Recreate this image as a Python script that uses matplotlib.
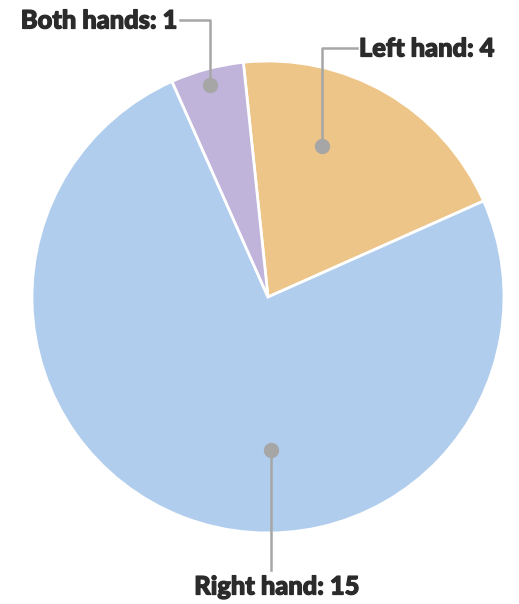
import numpy as np
import matplotlib

matplotlib.use("Agg")
import matplotlib.pyplot as plt
import matplotlib.patheffects as pe

# data
labels = ["Left hand", "Right hand", "Both hands"]
counts = [4, 15, 1]
colors = ["#EDC588", "#B0CDED", "#C0B4DA"]

# figure in pixel coordinates (y measured from bottom)
W, H = 519, 604
fig = plt.figure(figsize=(W / 100, H / 100), dpi=100)
ax = fig.add_axes([0, 0, 1, 1])

cx, cy, R = 268, H - 297, 236
ax.pie(
    counts,
    colors=colors,
    startangle=96,
    counterclock=False,
    center=(cx, cy),
    radius=R,
    wedgeprops=dict(edgecolor="white", linewidth=2),
)
ax.set_xlim(0, W)
ax.set_ylim(0, H)
ax.set_aspect("equal")
ax.axis("off")

# label anchors: (angle deg, radius fraction)
anchors = {
    "Left hand": (70.4, 0.68),
    "Right hand": (-89.0, 0.65),
    "Both hands": (105.4, 0.93),
}
line_col = "#A6A6A6"
txt_col = "#2B2B2B"
font = dict(
    family=["Lato", "DejaVu Sans"],
    fontweight="black",
    fontsize=18.3,
    color=txt_col,
    path_effects=[pe.withStroke(linewidth=0.9, foreground=txt_col)],
)

for lab, n in zip(labels, counts):
    ang, rf = anchors[lab]
    px = cx + rf * R * np.cos(np.radians(ang))
    py = cy + rf * R * np.sin(np.radians(ang))
    if lab == "Left hand":
        ey = H - 48
        ax.plot([px, px, 357], [py, ey, ey], color=line_col, lw=1.8, zorder=3)
        ax.text(359, ey - 1, f"{lab}: {n}", ha="left", va="center", **font)
    elif lab == "Both hands":
        ey = H - 20
        ax.plot([px, px, 180], [py, ey, ey], color=line_col, lw=1.8, zorder=3)
        ax.text(177, ey - 1, f"{lab}: {n}", ha="right", va="center", **font)
    else:
        ey = H - 570
        ax.plot([px, px], [py, ey], color=line_col, lw=1.8, zorder=3)
        ax.text(px + 6, H - 587, f"{lab}: {n}", ha="center", va="center", **font)
    ax.plot(px, py, "o", color=line_col, ms=10, zorder=4)

fig.savefig("out.png", dpi=100)
